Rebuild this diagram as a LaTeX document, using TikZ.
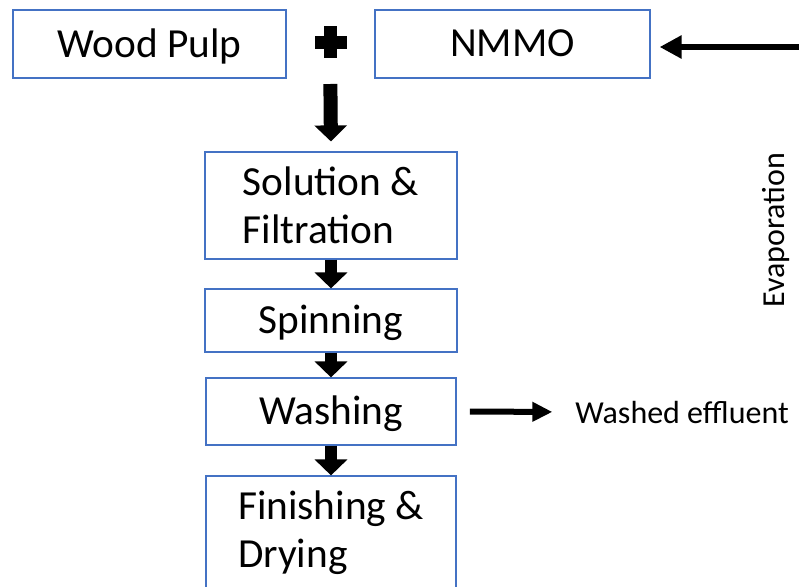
\documentclass[tikz,border=0pt]{standalone}
\usepackage{fontspec}
\setmainfont{Carlito}
\usetikzlibrary{arrows.meta}
\definecolor{boxblue}{RGB}{68,114,196}
\tikzset{
	>=latex,
}
\tikzstyle{stage}=[draw=boxblue,line width=0.9pt,inner sep=0pt,font=\fontsize{31}{36}\selectfont]
\tikzstyle{note}=[inner sep=0pt,font=\fontsize{24}{28}\selectfont]
\tikzstyle{blockarrow}=[line width=9pt,-{Triangle[width=24pt,length=12pt]}]
\tikzstyle{thinarrow}=[line width=4.5pt,-{Triangle[width=14pt,length=15pt]}]

\begin{document}
\begin{tikzpicture}[x=0.75pt,y=-0.75pt]
      \path[use as bounding box,clip] (0,0) rectangle (799,586);
      \node[stage,minimum width=204.75pt,minimum height=51pt,text depth=2pt] (pulp) at (149.5,44) {Wood Pulp};
      \node[stage,minimum width=206.25pt,minimum height=51pt,text depth=2pt] (nmmo) at (512.5,44) {NMMO};
      \node[stage,minimum width=189pt,minimum height=80.25pt,align=left] (sol) at (331,205.5) {Solution \&\\Filtration};
      \node[stage,minimum width=189pt,minimum height=47.25pt,text depth=2pt] (spin) at (331,320.5) {Spinning};
      \node[stage,minimum width=187.5pt,minimum height=50.25pt,text depth=2pt] (wash) at (331,411.5) {Washing};
      \node[stage,minimum width=187.5pt,minimum height=85.5pt,align=left] (fin) at (331,533) {Finishing \&\\Drying};
      \node[note,anchor=west] (effl) at (575,412) {Washed effluent};
      \node[note,rotate=90] (evap) at (776,230) {Evaporation};
      \coordinate (plus) at (330,42);
      \coordinate (recycle) at (830,47);
      \fill (315,35.5) rectangle (347,48.5);
      \fill (323.5,26) rectangle (336.5,58);
      \draw[blockarrow,line width=10.5pt,shorten <=31.5pt,shorten >=7.5pt] (plus)--(sol.north);
      \draw[blockarrow] (sol.south)--(spin.north);
      \draw[blockarrow] (spin.south)--(wash.north);
      \draw[blockarrow] (wash.south)--(fin.north);
      \draw[thinarrow,shorten <=10pt,shorten >=17pt] (wash.east)--(effl.west);
      \draw[thinarrow,-{Triangle[width=16.5pt,length=16.5pt]},shorten >=6.75pt] (recycle)--(recycle-|nmmo.east);
    \end{tikzpicture}
\end{document}
